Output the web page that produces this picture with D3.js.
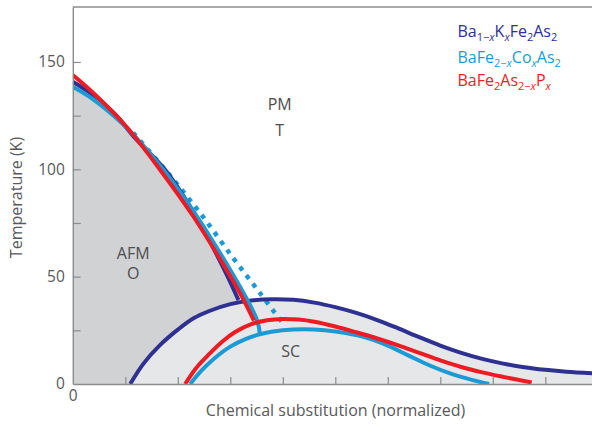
<!DOCTYPE html>
<html>
<head>
<meta charset="utf-8">
<script src="https://cdn.jsdelivr.net/npm/d3@7"></script>
<style>
  body { margin: 0; background: #fff; }
  svg { display: block; }
  text { font-family: "Open Sans", "Noto Sans", "DejaVu Sans", sans-serif; }
</style>
</head>
<body>
<svg id="chart" width="592" height="428"></svg>
<script>
// Phase boundaries, as [substitution (normalized), temperature (K)]
// Ba(1-x)K(x)Fe2As2
const kAfm = [[0, 140.8], [0.04, 134.3], [0.08, 125.8], [0.117, 115.0], [0.175, 100.0],
              [0.235, 78.0], [0.288, 53.5], [0.3156, 39.1]];
const kSc = [[0.1094, 0], [0.135, 9.6], [0.1665, 18.2], [0.2, 25.3], [0.23, 30.6],
             [0.26, 34.0], [0.3, 37.2], [0.34, 38.9], [0.38, 39.5], [0.42, 39.2],
             [0.46, 37.9], [0.5, 35.8], [0.54, 33.1], [0.58, 29.8], [0.62, 25.9],
             [0.66, 21.8], [0.7, 17.9], [0.74, 14.5], [0.78, 11.7], [0.82, 9.5],
             [0.86, 7.8], [0.9, 6.6], [0.94, 5.7], [0.99, 5.0]];
// BaFe(2-x)Co(x)As2
const coAfm = [[0, 138.5], [0.04, 132.4], [0.08, 124.5], [0.11, 117.5], [0.173, 99.7],
               [0.237, 77.9], [0.300, 53.1], [0.329, 40.7], [0.349, 31.0], [0.354, 27.0],
               [0.356, 23.5]];
const coStructural = [[0.115, 117.0], [0.179, 98.9], [0.243, 79.5], [0.306, 58.5],
                      [0.357, 42.2], [0.400, 28.3]];
const coSc = [[0.2236, 0], [0.245, 6.2], [0.27, 12.0], [0.30, 17.4], [0.33, 21.0],
              [0.36, 23.4], [0.40, 25.0], [0.44, 25.5], [0.48, 25.0], [0.52, 23.7],
              [0.56, 21.5], [0.60, 17.9], [0.64, 13.2], [0.68, 8.6], [0.72, 4.8],
              [0.76, 1.9], [0.793, 0]];
// BaFe2As(2-x)P(x)
const pAfm = [[0, 143.9], [0.0396, 135.4], [0.103, 119.6], [0.1665, 99.7], [0.230, 77.9],
              [0.293, 53.1], [0.322, 40.7], [0.345, 29.5]];
const pSc = [[0.214, 0], [0.235, 7.5], [0.26, 14.0], [0.285, 19.8], [0.31, 24.3],
             [0.34, 27.9], [0.37, 29.7], [0.40, 30.3], [0.43, 30.0], [0.46, 29.0],
             [0.5, 26.8], [0.54, 24.1], [0.58, 21.2], [0.62, 18.0], [0.66, 14.5],
             [0.7, 11.0], [0.74, 7.9], [0.78, 5.4], [0.82, 3.3], [0.874, 0.7]];

// Axis ticks
const xTicks = [0, 0.1, 0.2, 0.3, 0.4, 0.5, 0.6, 0.7, 0.8, 0.9];
const yTicks = [0, 25, 50, 75, 100, 125, 150];
const yLabelled = [0, 50, 100, 150];

// Legend entries: segments of text, with subscript / italic flags
const legendRows = [
  { key: "k", parts: [["Ba"], ["1−", "s"], ["x", "si"], ["K"], ["x", "si"], ["Fe"], ["2", "s"], ["As"], ["2", "s"]] },
  { key: "co", parts: [["BaFe"], ["2−", "s"], ["x", "si"], ["Co"], ["x", "si"], ["As"], ["2", "s"]] },
  { key: "p", parts: [["BaFe"], ["2", "s"], ["As"], ["2−", "s"], ["x", "si"], ["P"], ["x", "si"]] }
];

const colors = { k: "#2e3192", co: "#1c9ad6", p: "#ed1c24" };
const fillAfm = "#d1d2d3", fillSc = "#e6e7e8";
const axisColor = "#8a8c8e", textColor = "#58595b";

const W = 592, H = 428;
const svg = d3.select("#chart");
const x = d3.scaleLinear().domain([0, 1]).range([72.8, 597.8]);
const y = d3.scaleLinear().domain([0, 175.6]).range([384, 7]);

svg.append("clipPath").attr("id", "plot-clip")
  .append("rect")
  .attr("x", x(0)).attr("y", y(175.6))
  .attr("width", W - x(0)).attr("height", y(0) - y(175.6));

const plot = svg.append("g").attr("clip-path", "url(#plot-clip)");
const curve = d3.curveCatmullRom.alpha(0.5);

const area = d3.area().curve(curve)
  .x(d => x(d[0])).y0(y(0)).y1(d => y(d[1]));
const line = d3.line().curve(curve)
  .x(d => x(d[0])).y(d => y(d[1]));

// Antiferromagnetic (orthorhombic) region and superconducting dome
plot.append("path").attr("d", area(kAfm)).attr("fill", fillAfm);
plot.append("path").attr("d", area(kSc)).attr("fill", fillSc);

// Axes
const yAxis = d3.axisLeft(y).tickValues(yTicks)
  .tickSizeInner(-8).tickSizeOuter(0).tickPadding(8)
  .tickFormat(d => yLabelled.includes(d) ? d : "");
const xAxis = d3.axisBottom(x).tickValues(xTicks)
  .tickSizeInner(-7).tickSizeOuter(0).tickPadding(6)
  .tickFormat(d => d === 0 ? "0" : "");

const gy = svg.append("g").attr("transform", `translate(${x(0)},0)`).call(yAxis);
const gx = svg.append("g").attr("transform", `translate(0,${y(0)})`).call(xAxis);
[gx, gy].forEach(g => {
  g.select(".domain").attr("stroke", axisColor).attr("stroke-width", 1.4);
  g.selectAll(".tick line").attr("stroke", axisColor).attr("stroke-width", 1.2);
  g.selectAll(".tick text").attr("fill", textColor).attr("font-size", 15.5)
    .attr("font-family", '"Open Sans", "Noto Sans", sans-serif');
});
gx.select(".tick line").remove();
gy.selectAll(".tick").filter(d => d === 0).select("line").remove();

// Plot frame: top edge
svg.append("line")
  .attr("x1", x(0)).attr("x2", W)
  .attr("y1", y(175.6)).attr("y2", y(175.6))
  .attr("stroke", axisColor).attr("stroke-width", 1.4);

// Phase boundary curves (structural transition dotted, under the solid lines)
const curves = [
  { data: coStructural, c: colors.co, dash: "4.5,6.2" },
  { data: kAfm, c: colors.k },
  { data: kSc, c: colors.k },
  { data: coAfm, c: colors.co },
  { data: coSc, c: colors.co },
  { data: pAfm, c: colors.p },
  { data: pSc, c: colors.p }
];
curves.forEach(s => {
  plot.append("path")
    .attr("d", line(s.data))
    .attr("fill", "none")
    .attr("stroke", s.c)
    .attr("stroke-width", s.dash ? 4.5 : 4)
    .attr("stroke-dasharray", s.dash || null);
});

// Phase labels
const phaseLabels = [
  { t: "PM", x: 0.394, T: 127.6 }, { t: "T", x: 0.394, T: 115.5 },
  { t: "AFM", x: 0.115, T: 58.2 }, { t: "O", x: 0.115, T: 48.8 },
  { t: "SC", x: 0.415, T: 12.4 }
];
svg.selectAll("text.phase").data(phaseLabels).join("text")
  .attr("class", "phase")
  .attr("x", d => x(d.x)).attr("y", d => y(d.T))
  .attr("text-anchor", "middle")
  .attr("font-size", 16).attr("fill", "#4d4d4f")
  .text(d => d.t);

// Axis titles
svg.append("text")
  .attr("transform", `translate(22,197.5) rotate(-90)`)
  .attr("text-anchor", "middle").attr("font-size", 16).attr("fill", textColor)
  .text("Temperature (K)");
svg.append("text")
  .attr("x", 335.5).attr("y", 416)
  .attr("text-anchor", "middle").attr("font-size", 16).attr("fill", textColor)
  .text("Chemical substitution (normalized)");

// Legend
const legend = svg.append("g");
legendRows.forEach((row, i) => {
  const t = legend.append("text")
    .attr("x", 457.5).attr("y", [37, 62.5, 86][i])
    .attr("font-size", 16).attr("fill", colors[row.key]);
  let inSub = false;
  row.parts.forEach(([s, f]) => {
    const sub = !!f && f.includes("s");
    const ts = t.append("tspan").text(s);
    if (sub && !inSub) ts.attr("dy", 4);
    if (!sub && inSub) ts.attr("dy", -4);
    if (sub) ts.attr("font-size", 11);
    if (f && f.includes("i")) ts.attr("font-style", "italic");
    inSub = sub;
  });
});
</script>
</body>
</html>
